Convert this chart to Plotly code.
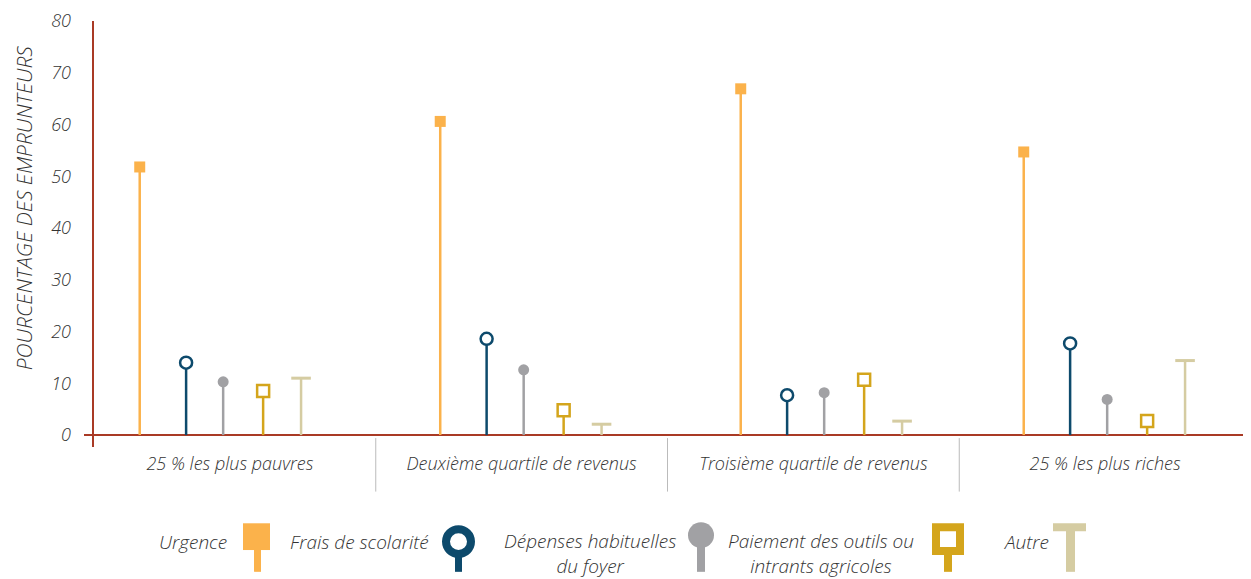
import plotly.graph_objects as go

# data
groups = ["25 % les plus pauvres", "Deuxième quartile de revenus",
          "Troisième quartile de revenus", "25 % les plus riches"]
urgence = [51.8, 60.6, 66.9, 54.7]
frais_scolarite = [14.0, 18.6, 7.7, 17.7]
depenses_foyer = [10.3, 12.6, 8.2, 6.9]
paiement_outils = [8.5, 4.8, 10.7, 2.7]
autre = [11.0, 2.1, 2.7, 14.4]
y_ticks = [0, 10, 20, 30, 40, 50, 60, 70, 80]

ORANGE = "#FBB24B"
BLUE = "#0D4A6C"
GREY = "#A1A1A4"
GOLD = "#D4A51C"
BEIGE = "#D5CCA2"
RED = "#A93A25"
TXT = "#333333"
FONT = "Open Sans"

# the page body adds an 8px offset, so the figure is drawn 8px smaller
PAGE = 8
W, H = 1251 - PAGE, 579 - PAGE
ML, MR, MT = 84 - PAGE, 0, 17 - PAGE
PW, PH = 1167, 430
MB = H - MT - PH

# small per-group nudge of the stem cluster (layout only)
group_shift = [-0.03, 0.0, 0.03, 0.0]


def px(x):
    # screen pixel -> paper x
    return (x - 84) / PW


def py(y):
    # screen pixel -> paper y
    return (447 - y) / PH


# series: (name, values, offset, symbol, fill, line colour, size, line width)
series = [
    ("Urgence", urgence, -0.279, "square", ORANGE, ORANGE, 11, 0),
    ("Frais de scolarité", frais_scolarite, -0.12, "circle", "white", BLUE, 12, 2.5),
    ("Dépenses habituelles du foyer", depenses_foyer, 0.007, "circle", GREY, GREY, 11, 0),
    ("Paiement des outils ou intrants agricoles", paiement_outils, 0.144, "square", "white", GOLD, 12, 2.5),
    ("Autre", autre, 0.274, "line-ew", BEIGE, BEIGE, 14, 3),
]

fig = go.Figure()
for name, vals, off, sym, fill, col, size, lw in series:
    fig.add_trace(go.Scatter(
        x=[i + off + group_shift[i] for i in range(len(groups))],
        y=vals,
        mode="markers",
        name=name,
        showlegend=False,
        marker=dict(symbol=sym, size=size, color=fill,
                    line=dict(color=col, width=lw)),
        error_y=dict(type="data", symmetric=False, array=[0] * len(vals),
                     arrayminus=vals, color=col, thickness=2.5, width=0),
        hovertemplate="%{y:.1f}%<extra>" + name + "</extra>",
    ))

shapes = [
    # vertical axis line
    dict(type="line", xref="paper", yref="paper", x0=px(93), x1=px(93),
         y0=0, y1=1, line=dict(color=RED, width=2)),
]
for b in [0.25, 0.5, 0.75]:
    shapes.append(dict(type="line", xref="paper", yref="paper", x0=b, x1=b,
                       y0=py(438), y1=py(492), line=dict(color="#BBBBBB", width=1)))


def rect(x0, x1, y0, y1, fill, line=None, lw=0):
    return dict(type="rect", xref="paper", yref="paper",
                x0=px(x0), x1=px(x1), y0=py(y1), y1=py(y0),
                fillcolor=fill, line=dict(color=line or fill, width=lw))


# legend icons
shapes += [
    rect(254, 261, 548, 573, ORANGE),
    rect(243, 270, 524, 551, ORANGE),
    rect(455, 462, 552, 573, BLUE),
    dict(type="circle", xref="paper", yref="paper", x0=px(446), x1=px(471),
         y0=py(555), y1=py(530), fillcolor="white", line=dict(color=BLUE, width=8)),
    rect(697, 705, 540, 573, GREY),
    dict(type="circle", xref="paper", yref="paper", x0=px(688), x1=px(714),
         y0=py(549), y1=py(523), fillcolor=GREY, line=dict(color=GREY, width=0)),
    rect(944, 952, 552, 573, GOLD),
    rect(936, 960, 528, 552, "white", GOLD, 8),
    rect(1066, 1075, 528, 573, BEIGE),
    rect(1053, 1086, 524, 532, BEIGE),
]

annotations = [
    dict(text="POURCENTAGE DES EMPRUNTEURS", textangle=-90, xref="paper", yref="paper",
         x=px(24), y=py(206), xanchor="center", yanchor="middle", showarrow=False,
         font=dict(family=FONT, size=21, color=TXT, style="italic", weight=300)),
]
legend_text = [
    ("Urgence", 229, 543, "right"),
    ("Frais de scolarité", 431, 543, "right"),
    ("Dépenses habituelles<br>du foyer", 590, 554, "center"),
    ("Paiement des outils ou<br>intrants agricoles", 821, 554, "center"),
    ("Autre", 1051, 543, "right"),
]
for txt, x, y, al in legend_text:
    xanchor = "right" if al == "right" else "center"
    annotations.append(dict(text=txt, xref="paper", yref="paper", x=px(x), y=py(y),
                            xanchor=xanchor, yanchor="middle", align="center",
                            showarrow=False,
                            font=dict(family=FONT, size=19, color=TXT, style="italic",
                                      weight=300)))

fig.update_layout(
    width=W, height=H,
    margin=dict(l=ML, r=MR, t=MT, b=MB),
    paper_bgcolor="white", plot_bgcolor="white",
    showlegend=False,
    shapes=shapes,
    annotations=annotations,
    font=dict(family=FONT, color=TXT),
)
fig.update_xaxes(
    range=[-0.5, 3.5], tickvals=list(range(len(groups))), ticktext=groups,
    showgrid=False, zeroline=False, showline=False, ticks="",
    ticklabelstandoff=4,
    tickfont=dict(family=FONT, size=18, color=TXT, style="italic", weight=300),
)
fig.update_yaxes(
    range=[-2.3, 80], tickvals=y_ticks, showgrid=False,
    zeroline=True, zerolinecolor=RED, zerolinewidth=2, showline=False,
    tickfont=dict(family=FONT, size=18, color=TXT, style="italic", weight=300),
    ticklabelstandoff=12, ticklabeloverflow="allow",
)

fig.write_html("out.html")
